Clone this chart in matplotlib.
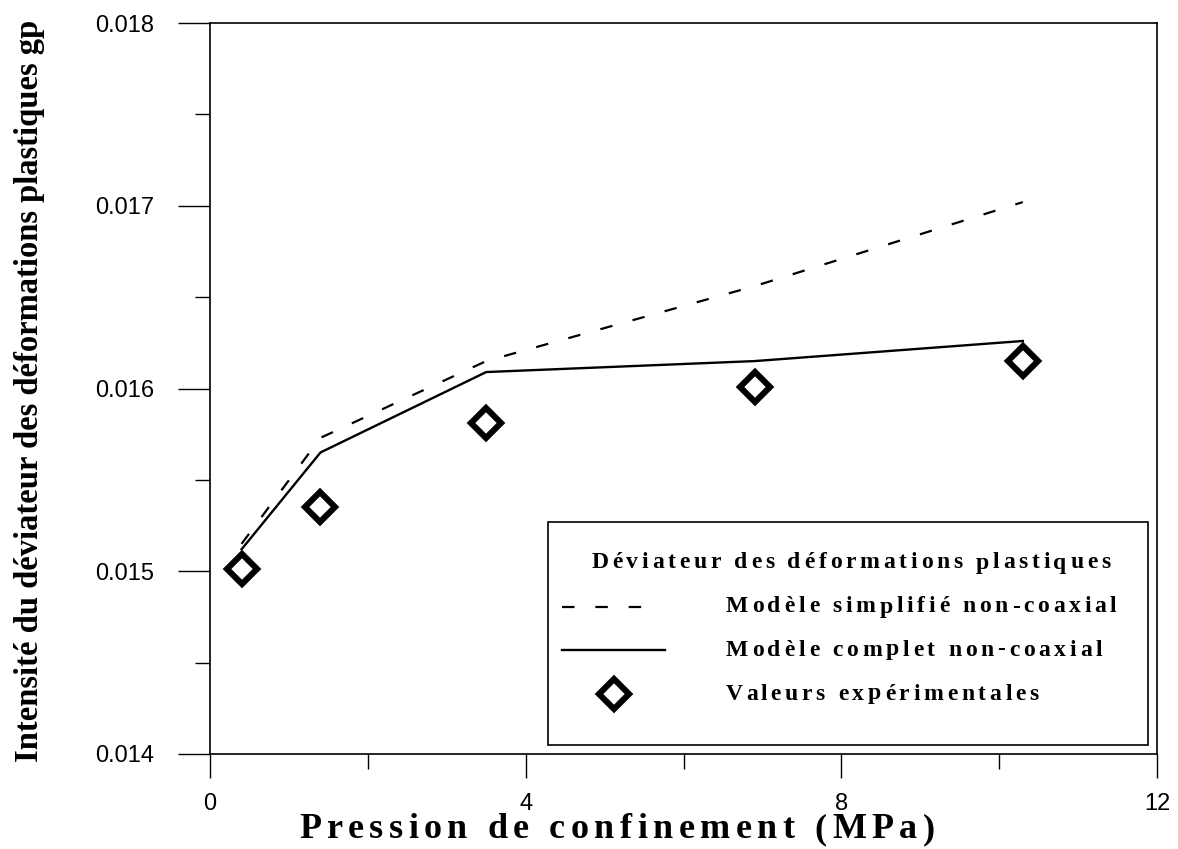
import matplotlib
matplotlib.use("Agg")
import matplotlib.pyplot as plt
from matplotlib.font_manager import FontProperties
from matplotlib.patches import Rectangle
from matplotlib.lines import Line2D
from matplotlib.ticker import MultipleLocator, FixedLocator

# ---- data ----
pressure = [0.4, 1.4, 3.5, 6.9, 10.3]
exp_values = [0.01501, 0.01535, 0.01581, 0.01601, 0.01615]
model_complete = [0.01512, 0.01565, 0.01609, 0.01615, 0.01626]
model_simplified = [0.01515, 0.01573, 0.01615, 0.01656, 0.01702]
x_ticks = [0, 4, 8, 12]
y_ticks = [0.014, 0.015, 0.016, 0.017, 0.018]
y_ticklabels = ["0.014", "0.015", "0.016", "0.017", "0.018"]

xlabel = "Pression de confinement (MPa)"
ylabel = "Intensité du déviateur des déformations plastiques gp"
legend_title = "Déviateur des déformations plastiques"
label_simplified = "Modèle simplifié non-coaxial"
label_complete = "Modèle complet non-coaxial"
label_exp = "Valeurs expérimentales"

W, H = 1178, 849
plt.rcParams['lines.scale_dashes'] = False
fig = plt.figure(figsize=(W / 100, H / 100), dpi=100)
ax = fig.add_axes([210 / W, 1 - 754 / H, (1157 - 210) / W, (754 - 23) / H])

ax.plot(pressure, model_simplified, color='black', lw=1.6, dashes=(9, 15))
ax.plot(pressure, model_complete, color='black', lw=1.7)
ax.plot(pressure, exp_values, ls='none', marker='D', ms=15.5, mfc='white',
        mec='black', mew=4.4)

ax.set_xlim(0, 12)
ax.set_ylim(0.014, 0.018)
ax.xaxis.set_major_locator(FixedLocator(x_ticks))
ax.xaxis.set_minor_locator(MultipleLocator(2))
ax.yaxis.set_major_locator(FixedLocator(y_ticks))
ax.set_yticklabels(y_ticklabels)
ax.yaxis.set_minor_locator(MultipleLocator(0.0005))
ax.tick_params(axis='both', which='both', direction='out', width=1.0,
               colors='black')
ax.tick_params(axis='y', which='major', length=23, pad=17, labelsize=17)
ax.tick_params(axis='y', which='minor', length=11)
ax.tick_params(axis='x', which='major', length=17, pad=11, labelsize=17)
ax.tick_params(axis='x', which='minor', length=11)
for lab in ax.get_xticklabels() + ax.get_yticklabels():
    lab.set_family('Liberation Sans')
for s in ax.spines.values():
    s.set_linewidth(1.2)

renderer = fig.canvas.get_renderer()


def spaced(x_px, y_px, s, size, spacing, ha='left', va='center',
           family='Liberation Serif', weight='bold'):
    fp = FontProperties(family=family, weight=weight, size=size)

    def w(t):
        return renderer.get_text_width_height_descent(t, fp, ismath=False)[0]

    ref = w('x')
    offs = [0 if i == 0 else w(s[:i] + 'x') - ref for i in range(len(s))]
    total = w(s) + spacing * (len(s) - 1)
    start = x_px - total / 2 if ha == 'center' else x_px
    for i, ch in enumerate(s):
        if ch == ' ':
            continue
        fig.text((start + offs[i] + i * spacing) / W, 1 - y_px / H, ch,
                 fontproperties=fp, ha='left', va=va)


# axis labels
spaced(617, 830, xlabel, 26, 5.5, ha='center', va='center')
fig.text(30 / W, 1 - 391 / H, ylabel, rotation=90, ha='center', va='center',
         family='Liberation Serif', weight='bold', fontsize=23.5)

# legend box (manual, to reproduce letter-spaced layout)
fig.add_artist(Rectangle((548 / W, 1 - 745 / H), 600 / W, 223 / H,
                         transform=fig.transFigure, fc='white', ec='black',
                         lw=1.2, zorder=3))
spaced(851, 563, legend_title, 17, 3.7, ha='center')
fig.add_artist(Line2D([562 / W, 655 / W], [1 - 607 / H, 1 - 607 / H],
                      transform=fig.transFigure, color='black', lw=1.6,
                      dashes=(9, 15), zorder=4))
spaced(726, 607, label_simplified, 17, 3.7)
fig.add_artist(Line2D([562 / W, 665 / W], [1 - 650 / H, 1 - 650 / H],
                      transform=fig.transFigure, color='black', lw=1.7,
                      zorder=4))
spaced(726, 650, label_complete, 17, 3.7)
fig.add_artist(Line2D([614 / W], [1 - 694 / H], transform=fig.transFigure,
                      ls='none', marker='D', ms=15.5, mfc='white', mec='black',
                      mew=4.4, zorder=4))
spaced(726, 694, label_exp, 17, 3.7)

fig.savefig('out.png', dpi=100)
